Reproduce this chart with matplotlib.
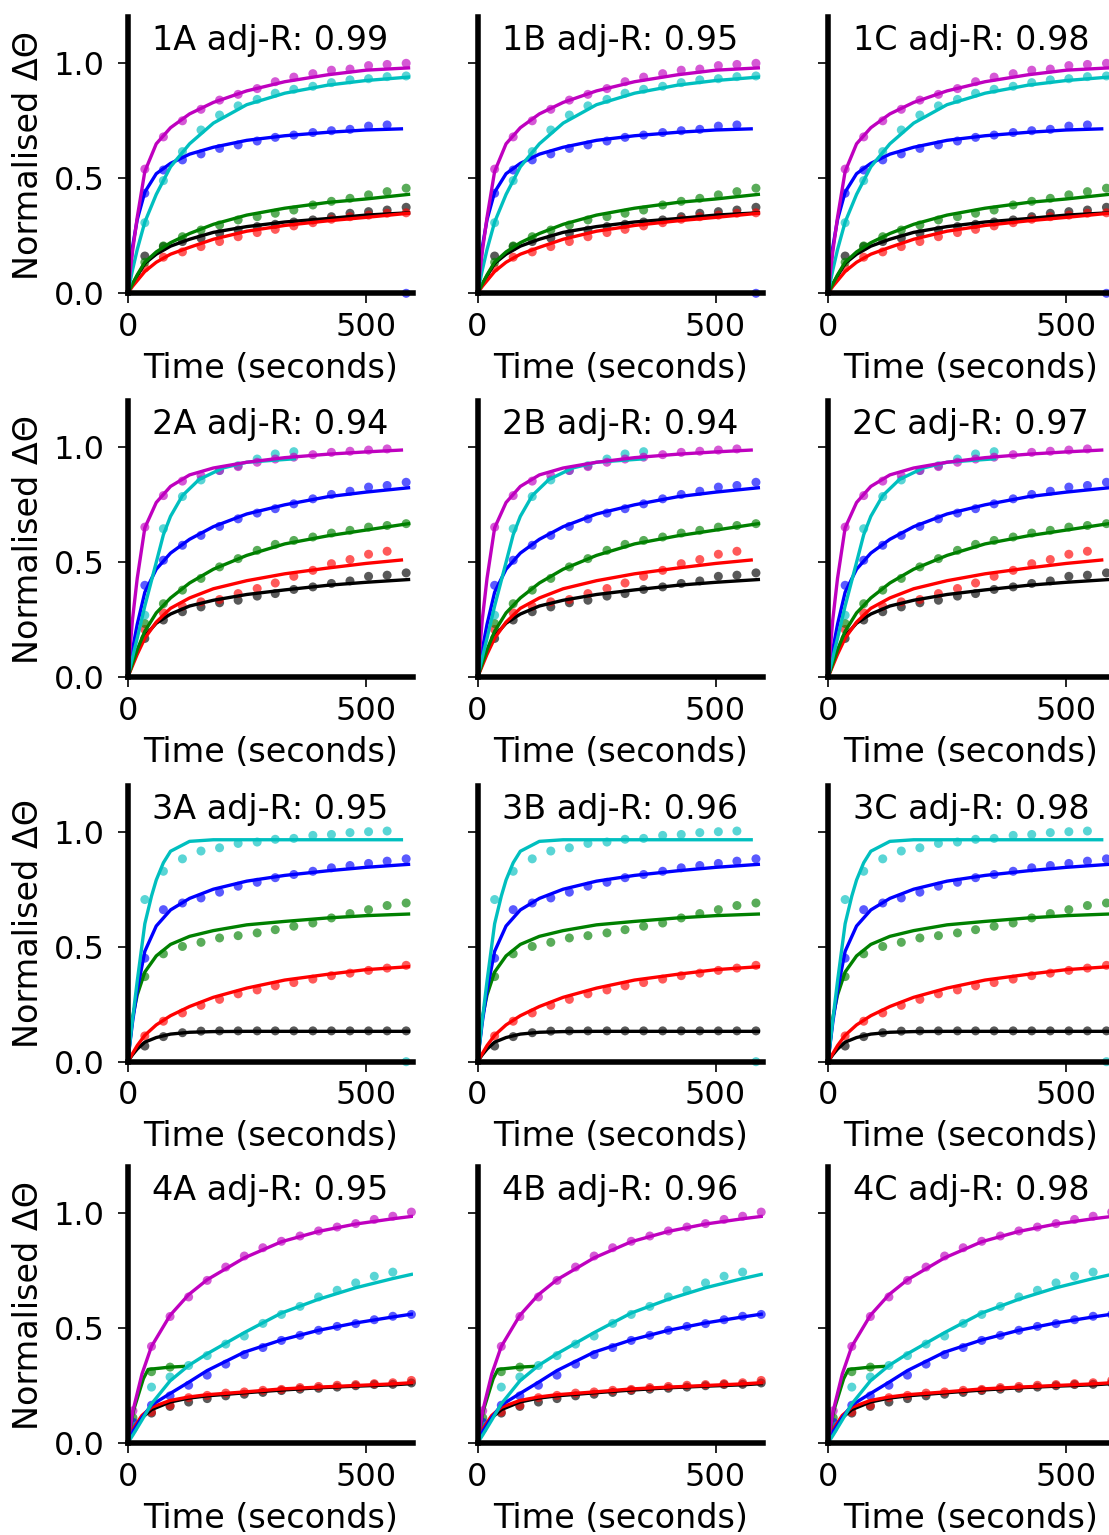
import matplotlib
matplotlib.use("Agg")
import matplotlib.pyplot as plt

# sample times of the measured points (s)
T_PTS = [36, 75, 115, 154, 193, 232, 272, 310, 349, 389, 428, 467, 506, 545, 585]
T_PTS4 = [11, 50, 89, 128, 167, 206, 245, 284, 323, 362, 401, 440, 479, 518, 557, 596]

T_FIT = [0, 10, 20, 36, 60, 90, 130, 180, 250, 330, 420, 500, 590]
T_FIT_S = [0, 10, 20, 36, 60, 90, 130, 180, 250, 330, 420, 500, 575]
T_FIT4 = [0, 11, 30, 50, 89, 128, 167, 245, 323, 401, 479, 557, 596]
T_FIT2_C = [0, 20, 36, 60, 75, 90, 115, 150, 200, 250, 350]
T_FIT3_C = [0, 10, 20, 36, 50, 60, 75, 90, 130, 180, 575]
T_FIT4_G = [0, 12, 33, 43, 89, 117]

# ---- row 1 ----
r1_m = [0.54, 0.68, 0.75, 0.80, 0.84, 0.865, 0.89, 0.92, 0.94, 0.955, 0.97, 0.975, 0.99, 0.995, 1.0]
r1_c = [0.307, 0.49, 0.616, 0.71, 0.775, 0.815, 0.843, 0.87, 0.887, 0.90, 0.916, 0.928, 0.933, 0.942, 0.945]
r1_b = [0.435, 0.536, 0.58, 0.606, 0.63, 0.645, 0.662, 0.678, 0.688, 0.699, 0.707, 0.713, 0.727, 0.732, 0.0]
r1_g = [0.135, 0.206, 0.246, 0.275, 0.297, 0.319, 0.333, 0.348, 0.362, 0.384, 0.40, 0.413, 0.428, 0.442, 0.457]
r1_r = [0.11, 0.157, 0.18, 0.203, 0.225, 0.246, 0.264, 0.278, 0.293, 0.307, 0.322, 0.333, 0.34, 0.348, 0.35]
r1_k = [0.162, 0.203, 0.225, 0.24, 0.26, 0.275, 0.29, 0.30, 0.31, 0.319, 0.333, 0.348, 0.355, 0.362, 0.374]

r1_m_fit = [0, 0.18, 0.33, 0.53, 0.65, 0.72, 0.78, 0.83, 0.88, 0.92, 0.95, 0.97, 0.98]
r1_c_fit = [0, 0.10, 0.19, 0.31, 0.43, 0.55, 0.65, 0.74, 0.82, 0.87, 0.905, 0.925, 0.94]
r1_b_fit = [0, 0.20, 0.32, 0.44, 0.52, 0.565, 0.605, 0.635, 0.665, 0.685, 0.70, 0.71, 0.715]
r1_g_fit = [0, 0.04, 0.08, 0.135, 0.18, 0.22, 0.26, 0.30, 0.34, 0.37, 0.395, 0.41, 0.43]
r1_r_fit = [0, 0.03, 0.055, 0.095, 0.135, 0.17, 0.20, 0.235, 0.27, 0.295, 0.315, 0.33, 0.348]
r1_k_fit = [0, 0.04, 0.075, 0.13, 0.17, 0.205, 0.235, 0.265, 0.29, 0.31, 0.325, 0.34, 0.35]

# ---- row 2 ----
r2_m = [0.653, 0.79, 0.853, 0.877, 0.899, 0.916, 0.935, 0.949, 0.957, 0.968, 0.978, 0.983, 0.988, 0.993]
r2_c = [0.27, 0.646, 0.786, 0.858, 0.899, 0.92, 0.949, 0.971, 0.981]
r2_b = [0.40, 0.509, 0.574, 0.617, 0.656, 0.689, 0.714, 0.733, 0.754, 0.776, 0.795, 0.809, 0.827, 0.834, 0.848]
r2_g = [0.234, 0.32, 0.379, 0.43, 0.48, 0.516, 0.552, 0.578, 0.595, 0.61, 0.627, 0.639, 0.653, 0.66, 0.668]
r2_r = [0.208, 0.28, 0.309, 0.328, 0.338, 0.364, 0.386, 0.41, 0.439, 0.465, 0.494, 0.512, 0.535, 0.548]
r2_k = [0.169, 0.249, 0.285, 0.306, 0.324, 0.335, 0.353, 0.364, 0.382, 0.393, 0.408, 0.419, 0.439, 0.444, 0.454]

r2_m_fit = [0, 0.25, 0.43, 0.65, 0.76, 0.83, 0.88, 0.91, 0.935, 0.955, 0.97, 0.98, 0.988]
r2_c_fit = [0, 0.17, 0.31, 0.50, 0.62, 0.70, 0.79, 0.86, 0.91, 0.935, 0.95]
r2_b_fit = [0, 0.12, 0.23, 0.37, 0.47, 0.54, 0.60, 0.655, 0.71, 0.75, 0.785, 0.805, 0.824]
r2_g_fit = [0, 0.06, 0.12, 0.20, 0.28, 0.345, 0.41, 0.47, 0.53, 0.58, 0.615, 0.64, 0.668]
r2_r_fit = [0, 0.05, 0.10, 0.17, 0.24, 0.30, 0.345, 0.385, 0.42, 0.45, 0.475, 0.495, 0.51]
r2_k_fit = [0, 0.06, 0.11, 0.18, 0.235, 0.275, 0.31, 0.335, 0.36, 0.38, 0.40, 0.413, 0.425]

# ---- row 3 ----
r3_c = [0.705, 0.828, 0.882, 0.916, 0.93, 0.949, 0.955, 0.967, 0.971, 0.984, 0.988, 0.996, 1.0, 1.003, 0.0]
r3_b = [0.45, 0.661, 0.69, 0.712, 0.737, 0.763, 0.78, 0.80, 0.814, 0.828, 0.843, 0.853, 0.862, 0.872, 0.882]
r3_g = [0.37, 0.469, 0.501, 0.519, 0.538, 0.548, 0.56, 0.574, 0.589, 0.603, 0.625, 0.644, 0.661, 0.679, 0.69]
r3_r = [0.112, 0.176, 0.212, 0.245, 0.271, 0.295, 0.312, 0.33, 0.344, 0.359, 0.374, 0.385, 0.397, 0.407, 0.419]
r3_k = [0.068, 0.109, 0.126, 0.133, 0.134, 0.134, 0.134, 0.134, 0.134, 0.134, 0.134, 0.134, 0.134, 0.134, 0.134]

r3_c_fit = [0, 0.18, 0.35, 0.60, 0.72, 0.79, 0.865, 0.915, 0.958, 0.965, 0.965]
r3_b_fit = [0, 0.17, 0.31, 0.48, 0.59, 0.66, 0.71, 0.75, 0.785, 0.81, 0.83, 0.845, 0.858]
r3_g_fit = [0, 0.19, 0.29, 0.39, 0.46, 0.51, 0.545, 0.57, 0.595, 0.61, 0.625, 0.635, 0.642]
r3_r_fit = [0, 0.035, 0.07, 0.115, 0.16, 0.20, 0.24, 0.28, 0.32, 0.355, 0.38, 0.40, 0.413]
r3_k_fit = [0, 0.03, 0.055, 0.085, 0.105, 0.12, 0.128, 0.131, 0.132, 0.132, 0.132, 0.132, 0.132]

# ---- row 4 ----
r4_m = [0.14, 0.42, 0.55, 0.635, 0.707, 0.765, 0.813, 0.849, 0.877, 0.90, 0.922, 0.939, 0.954, 0.972, 0.986, 1.004]
r4_c = [0.07, 0.243, 0.287, 0.337, 0.38, 0.43, 0.465, 0.52, 0.559, 0.594, 0.635, 0.664, 0.696, 0.725, 0.743]
r4_b = [0.09, 0.164, 0.205, 0.251, 0.295, 0.343, 0.384, 0.415, 0.446, 0.468, 0.49, 0.507, 0.519, 0.536, 0.551, 0.559]
r4_g = [0.11, 0.31, 0.33]
r4_r = [0.06, 0.135, 0.164, 0.197, 0.207, 0.217, 0.222, 0.229, 0.233, 0.241, 0.246, 0.251, 0.254, 0.258, 0.262, 0.272]
r4_k = [0.07, 0.13, 0.159, 0.178, 0.193, 0.205, 0.212, 0.22, 0.228, 0.234, 0.238, 0.243, 0.249, 0.254, 0.255, 0.261]

r4_m_fit = [0, 0.14, 0.30, 0.42, 0.555, 0.645, 0.71, 0.805, 0.875, 0.92, 0.952, 0.975, 0.985]
r4_c_fit = [0, 0.035, 0.10, 0.17, 0.27, 0.337, 0.388, 0.48, 0.565, 0.625, 0.675, 0.715, 0.733]
r4_b_fit = [0, 0.05, 0.11, 0.165, 0.215, 0.264, 0.315, 0.395, 0.448, 0.49, 0.522, 0.548, 0.56]
r4_g_fit = [0, 0.14, 0.28, 0.32, 0.33, 0.333]
r4_r_fit = [0, 0.06, 0.12, 0.155, 0.185, 0.20, 0.21, 0.222, 0.235, 0.243, 0.25, 0.257, 0.262]
r4_k_fit = [0, 0.05, 0.11, 0.145, 0.178, 0.195, 0.205, 0.218, 0.23, 0.24, 0.247, 0.253, 0.258]

COLUMNS = ["A", "B", "C"]
ADJ_R = [["0.99", "0.95", "0.98"],
         ["0.94", "0.94", "0.97"],
         ["0.95", "0.96", "0.98"],
         ["0.95", "0.96", "0.98"]]

# (colour, point times, point values, fit times, fit values) per row
ROWS = [
    [("k", T_PTS, r1_k, T_FIT, r1_k_fit), ("r", T_PTS, r1_r, T_FIT, r1_r_fit),
     ("g", T_PTS, r1_g, T_FIT, r1_g_fit), ("b", T_PTS, r1_b, T_FIT_S, r1_b_fit),
     ("c", T_PTS, r1_c, T_FIT, r1_c_fit), ("m", T_PTS, r1_m, T_FIT, r1_m_fit)],
    [("k", T_PTS, r2_k, T_FIT, r2_k_fit), ("r", T_PTS, r2_r, T_FIT_S, r2_r_fit),
     ("g", T_PTS, r2_g, T_FIT, r2_g_fit), ("b", T_PTS, r2_b, T_FIT, r2_b_fit),
     ("c", T_PTS, r2_c, T_FIT2_C, r2_c_fit), ("m", T_PTS, r2_m, T_FIT_S, r2_m_fit)],
    [("k", T_PTS, r3_k, T_FIT, r3_k_fit), ("r", T_PTS, r3_r, T_FIT, r3_r_fit),
     ("g", T_PTS, r3_g, T_FIT, r3_g_fit), ("b", T_PTS, r3_b, T_FIT, r3_b_fit),
     ("c", T_PTS, r3_c, T_FIT3_C, r3_c_fit)],
    [("k", T_PTS4, r4_k, T_FIT4, r4_k_fit), ("r", T_PTS4, r4_r, T_FIT4, r4_r_fit),
     ("g", T_PTS4, r4_g, T_FIT4_G, r4_g_fit), ("b", T_PTS4, r4_b, T_FIT4, r4_b_fit),
     ("c", T_PTS4, r4_c, T_FIT4, r4_c_fit), ("m", T_PTS4, r4_m, T_FIT4, r4_m_fit)],
]

W, H = 1109, 1535
fig = plt.figure(figsize=(W / 100, H / 100), dpi=100)

col_left = [127.7, 477.5, 828.0]
row_bottom = [293.3, 677.3, 1061.7, 1443.0]
ax_w, ax_h = 285.6, 276.0

for i, series in enumerate(ROWS):
    for j, col in enumerate(COLUMNS):
        ax = fig.add_axes([col_left[j] / W, 1 - row_bottom[i] / H, ax_w / W, ax_h / H])
        for color, tp, vp, tf, vf in series:
            ax.plot(tf, vf, color=color, lw=2.4)
            ax.scatter(tp[:len(vp)], vp, s=42, color=color, alpha=0.65,
                       edgecolors="none", clip_on=False)
        ax.set_xlim(0, 600)
        ax.set_ylim(0, 1.2)
        ax.set_xticks([0, 500])
        ax.set_yticks([0, 0.5, 1.0])
        for side in ["top", "right"]:
            ax.spines[side].set_visible(False)
        for side in ["left", "bottom"]:
            ax.spines[side].set_linewidth(4)
        ax.tick_params(direction="out", length=7.5, width=1.2, labelsize=23)
        ax.tick_params(axis="x", pad=6)
        ax.tick_params(axis="y", pad=9)
        ax.set_xlabel("Time (seconds)", fontsize=24, labelpad=6.5)
        if j == 0:
            ax.set_ylabel("Normalised ΔΘ", fontsize=24, labelpad=6)
        else:
            ax.set_yticklabels([])
        ax.text(0.5, 0.88, f"{i + 1}{col} adj-R: {ADJ_R[i][j]}", transform=ax.transAxes,
                ha="center", va="baseline", fontsize=24)

fig.savefig("out.png", dpi=100)
